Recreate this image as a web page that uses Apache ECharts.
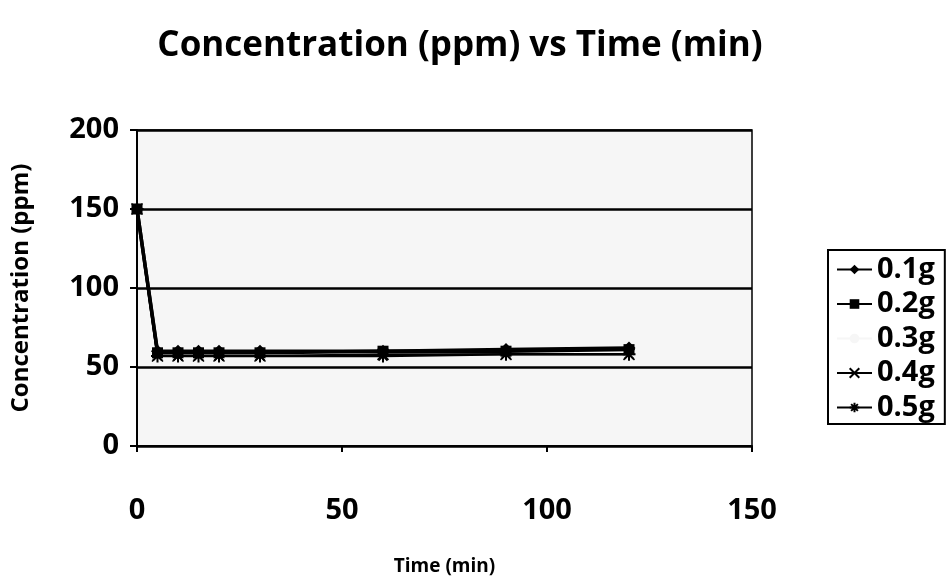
<!DOCTYPE html>
<html>
<head>
<meta charset="utf-8">
<script src="https://cdn.jsdelivr.net/npm/echarts@6/dist/echarts.min.js"></script>
<style>html,body{margin:0;padding:0;background:#fff;}#c{width:949px;height:585px;}</style>
</head>
<body>
<div id="c"></div>
<script>
var times = [0, 5, 10, 15, 20, 30, 60, 90, 120];
var s01 = [150, 60, 60, 60, 60, 60, 60, 61, 62];
var s02 = [150, 59, 59, 59, 59, 59, 60, 60, 61];
var s03 = [150, 58, 58, 58, 58, 58, 59, 59, 59];
var s04 = [150, 57, 57, 57, 57, 57, 58, 58, 58];
var s05 = [150, 57, 57, 57, 57, 57, 57, 58, 58];
var seriesNames = ['0.1g', '0.2g', '0.3g', '0.4g', '0.5g'];
var xTicks = [0, 50, 100, 150];
var yTicks = [0, 50, 100, 150, 200];

function pairs(arr) { return times.map(function (t, i) { return [t, arr[i]]; }); }

var FONT = 'Open Sans';
var chart = echarts.init(document.getElementById('c'), null, { renderer: 'canvas' });
var xSym = 'path://M0,0L10,10M10,0L0,10';
var aSym = 'path://M5,0L5,10M0,5L10,5M1.5,1.5L8.5,8.5M8.5,1.5L1.5,8.5';

chart.setOption({
  backgroundColor: '#ffffff',
  animation: false,
  title: {
    text: 'Concentration (ppm) vs Time (min)',
    left: 455, top: 24, textAlign: 'center',
    textStyle: { fontFamily: FONT, fontWeight: 'bold', fontSize: 35, color: '#000' }
  },
  grid: {
    left: 137, right: 197, top: 130, bottom: 139,
    show: true, backgroundColor: '#f6f6f6', borderColor: '#000', borderWidth: 1.5
  },
  legend: {
    orient: 'vertical', left: 828, top: 250,
    padding: [5, 10, 2, 8], itemGap: 5.5, itemWidth: 35, itemHeight: 12,
    backgroundColor: '#fff', borderColor: '#000', borderWidth: 2,
    textStyle: { fontFamily: FONT, fontWeight: 'bold', fontSize: 29, color: '#000' },
    data: seriesNames
  },
  xAxis: {
    type: 'value', min: 0, max: 150, interval: 50,
    name: 'Time (min)', nameLocation: 'middle', nameGap: 111,
    nameTextStyle: { fontFamily: FONT, fontWeight: 'bold', fontSize: 19, color: '#000' },
    axisLine: { show: true, lineStyle: { color: '#000', width: 2 } },
    axisTick: { show: true, length: 6, lineStyle: { color: '#000', width: 2 } },
    axisLabel: { margin: 50, fontFamily: FONT, fontWeight: 'bold', fontSize: 29, color: '#000',
      formatter: function (v) { return xTicks.indexOf(v) >= 0 ? String(v) : ''; } },
    splitLine: { show: false }
  },
  yAxis: {
    type: 'value', min: 0, max: 200, interval: 50,
    name: 'Concentration (ppm)', nameLocation: 'middle', nameGap: 104, nameRotate: 90,
    nameTextStyle: { fontFamily: FONT, fontWeight: 'bold', fontSize: 24, color: '#000' },
    axisLine: { show: true, lineStyle: { color: '#000', width: 2 } },
    axisTick: { show: true, length: 7, lineStyle: { color: '#000', width: 2 } },
    axisLabel: { margin: 18, fontFamily: FONT, fontWeight: 'bold', fontSize: 29, color: '#000',
      formatter: function (v) { return yTicks.indexOf(v) >= 0 ? String(v) : ''; } },
    splitLine: { show: true, lineStyle: { color: '#000', width: 2.5 } }
  },
  series: [
    { name: seriesNames[2], type: 'line', data: pairs(s03), symbol: 'none', z: 1,
      lineStyle: { color: '#f6f6f6', width: 2 }, itemStyle: { color: '#f6f6f6' } },
    { name: seriesNames[0], type: 'line', data: pairs(s01), symbol: 'diamond', symbolSize: 13, z: 3,
      lineStyle: { color: '#000', width: 3.5 }, itemStyle: { color: '#000' } },
    { name: seriesNames[1], type: 'line', data: pairs(s02), symbol: 'rect', symbolSize: 11, z: 3,
      lineStyle: { color: '#000', width: 3.5 }, itemStyle: { color: '#000' } },
    { name: seriesNames[3], type: 'line', data: pairs(s04), symbol: xSym, symbolSize: 11, z: 3,
      lineStyle: { color: '#000', width: 2 }, itemStyle: { color: '#000', borderColor: '#000', borderWidth: 1.5 } },
    { name: seriesNames[4], type: 'line', data: pairs(s05), symbol: aSym, symbolSize: 13, z: 3,
      lineStyle: { color: '#000', width: 2.5 }, itemStyle: { color: '#000', borderColor: '#000', borderWidth: 2 } }
  ]
});
</script>
</body>
</html>
